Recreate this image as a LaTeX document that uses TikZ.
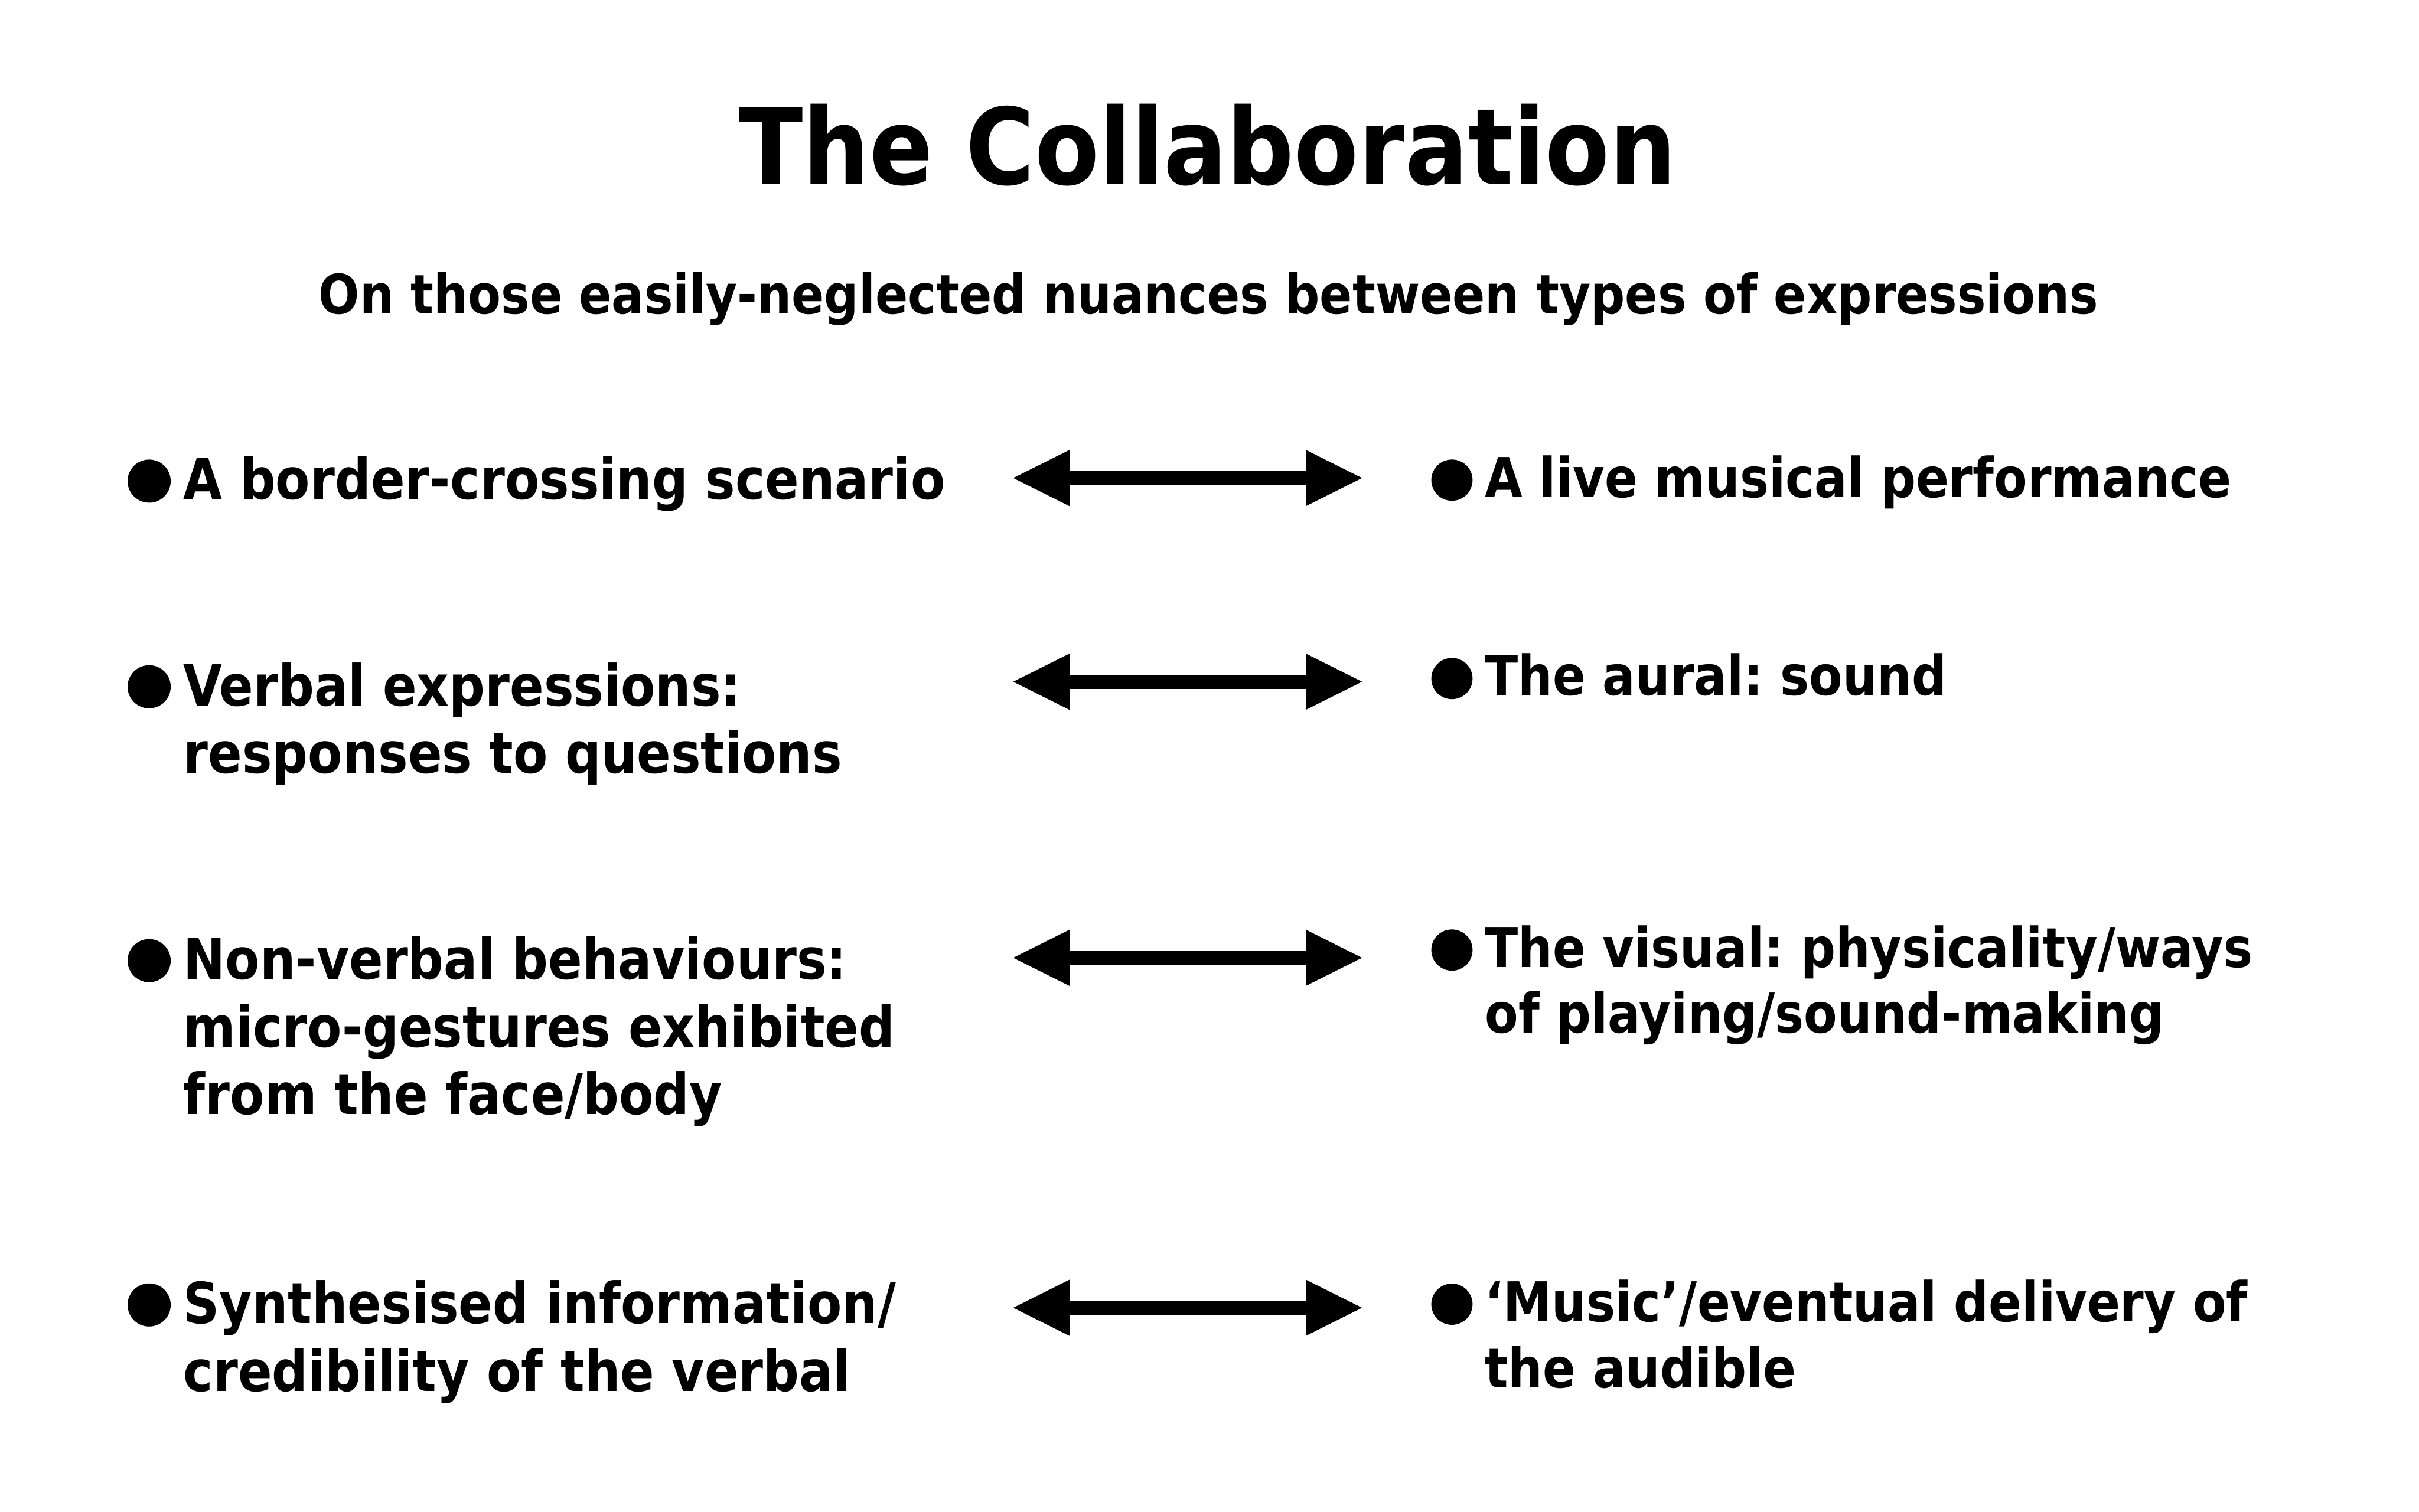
\documentclass[tikz,border=0pt]{standalone}
\usepackage{fontspec}
\setmainfont{DejaVu Sans}[FakeStretch=0.885]
\frenchspacing
\usetikzlibrary{arrows.meta}
\tikzset{
  titletext/.style={anchor=base, inner sep=0pt, font=\bfseries\fontsize{53.2pt}{64pt}\selectfont},
  subtext/.style={anchor=base, inner sep=0pt, font=\bfseries\fontsize{27.3pt}{33pt}\selectfont},
  lefttext/.style={anchor=base west, inner sep=0pt, font=\bfseries\fontsize{28.45pt}{33.94pt}\selectfont},
  righttext/.style={anchor=base west, inner sep=0pt, font=\bfseries\fontsize{27.6pt}{33.15pt}\selectfont},
  lbullet/.style={circle, fill=black, inner sep=0pt, minimum size=0.76cm},
  rbullet/.style={circle, fill=black, inner sep=0pt, minimum size=0.727cm},
  dblarrow/.style={line width=0.25cm, {Triangle[length=9.9mm,width=9.9mm,line width=0pt]}-{Triangle[length=9.9mm,width=9.9mm,line width=0pt]}}
}
\begin{document}
\begin{tikzpicture}
\frenchspacing
\useasboundingbox[fill=white] (0,0) rectangle (42.66,-26.67);
% title
\node[titletext] (title) at (21.30,-3.257) {The Collaboration};
\node[subtext] (sub) at (21.315,-5.54) {On those easily-neglected nuances between types of expressions};
% left column
\node[lbullet] (lb1) at (2.63,-8.487) {};
\node[lefttext] (l1) at (3.23,-8.81) {A border-crossing scenario};
\node[lbullet] (lb2) at (2.63,-12.115) {};
\node[lefttext] (l2) at (3.23,-12.45) {\vtop{\hbox{Verbal expressions:}\hbox{responses to questions}}};
\node[lbullet] (lb3) at (2.63,-16.947) {};
\node[lefttext] (l3) at (3.23,-17.273) {\vtop{\hbox{Non-verbal behaviours:}\hbox{micro-gestures exhibited}\hbox{from the face/body}}};
\node[lbullet] (lb4) at (2.63,-23.02) {};
\node[lefttext] (l4) at (3.23,-23.35) {\vtop{\hbox{Synthesised information/}\hbox{credibility of the verbal}}};
% right column
\node[rbullet] (rb1) at (25.605,-8.47) {};
\node[righttext] (r1) at (26.18,-8.77) {A live musical performance};
\node[rbullet] (rb2) at (25.605,-11.97) {};
\node[righttext] (r2) at (26.18,-12.26) {The aural: sound};
\node[rbullet] (rb3) at (25.605,-16.76) {};
\node[righttext] (r3) at (26.18,-17.06) {\vtop{\hbox{The visual: physicality/ways}\hbox{of playing/sound-making}}};
\node[rbullet] (rb4) at (25.605,-23.007) {};
\node[righttext] (r4) at (26.18,-23.317) {\vtop{\hbox{‘Music’/eventual delivery of}\hbox{the audible}}};
% arrows
\coordinate (a1l) at (17.87,-8.433);
\coordinate (a1r) at (24.02,-8.433);
\coordinate (a2l) at (17.87,-12.026);
\coordinate (a2r) at (24.02,-12.026);
\coordinate (a3l) at (17.87,-16.896);
\coordinate (a3r) at (24.02,-16.896);
\coordinate (a4l) at (17.87,-23.07);
\coordinate (a4r) at (24.02,-23.07);
\draw[dblarrow] (a1l) -- (a1r);
\draw[dblarrow] (a2l) -- (a2r);
\draw[dblarrow] (a3l) -- (a3r);
\draw[dblarrow] (a4l) -- (a4r);
\end{tikzpicture}
\end{document}
